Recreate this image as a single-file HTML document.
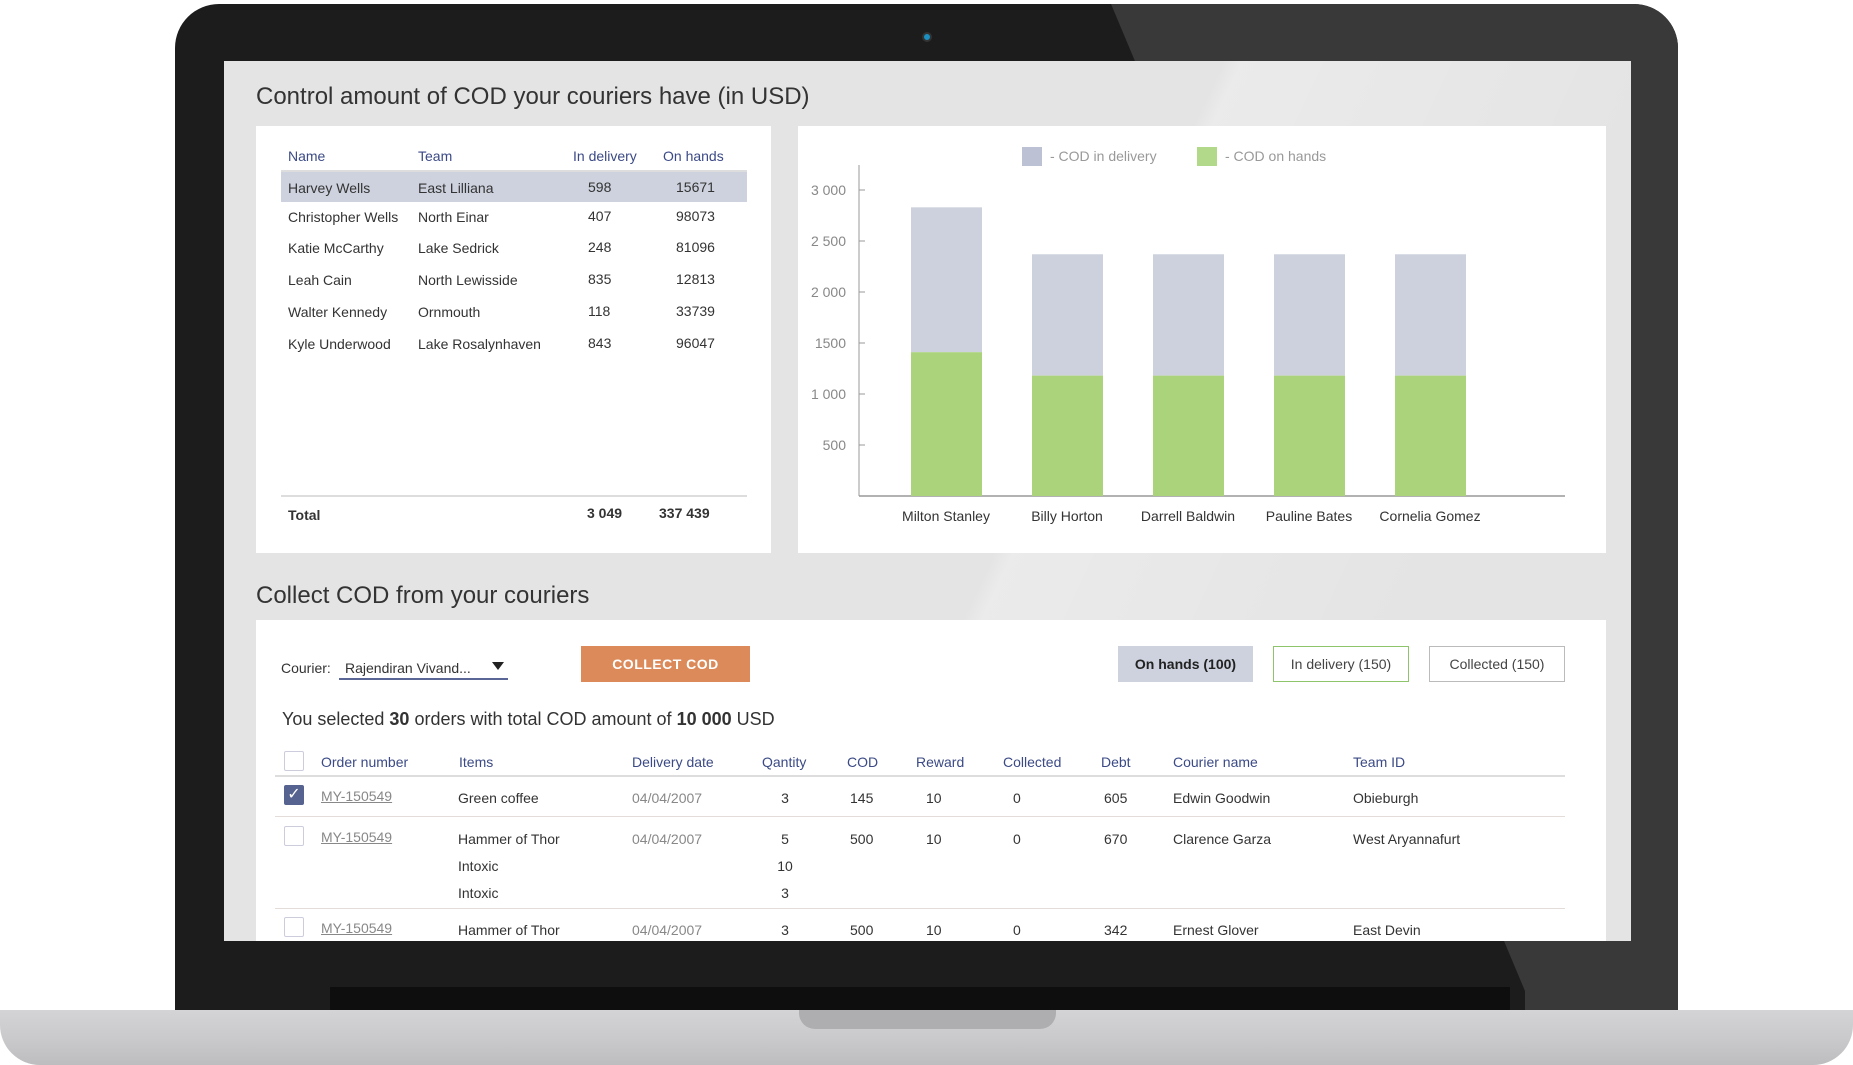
<!DOCTYPE html>
<html><head><meta charset="utf-8"><style>
*{margin:0;padding:0;box-sizing:border-box}
body{width:1853px;height:1065px;overflow:hidden;background:#fff;font-family:"Liberation Sans",sans-serif;position:relative}
.a{position:absolute;white-space:nowrap}
.hd{color:#3b4a86;font-size:14px}
.tx{color:#333;font-size:14px}
</style></head><body>
<div class="a" style="left:175px;top:4px;width:1503px;height:1010px;background:#1c1c1c;border-radius:44px 44px 0 0"></div>
<div class="a" style="left:175px;top:4px;width:1503px;height:1010px;background:#393939;border-radius:44px 44px 0 0;clip-path:polygon(936px 0,1503px 0,1503px 1010px,1350px 1010px,1350px 987px)"></div>
<div class="a" style="left:922px;top:32px;width:10px;height:10px;border-radius:50%;background:#1a8fc0;border:2px solid #333"></div>
<div class="a" style="left:330px;top:987px;width:1180px;height:23px;background:#0e0e0e"></div>
<div class="a" style="left:0;top:1010px;width:1853px;height:55px;background:linear-gradient(#d4d4d6 0,#c9c9cb 55%,#bdbdbf 100%);border-radius:0 0 40px 40px"></div>
<div class="a" style="left:799px;top:1010px;width:257px;height:19px;background:#aeaeb0;border-radius:0 0 16px 16px"></div>
<div class="a" style="left:224px;top:61px;width:1407px;height:880px;background:#e4e4e4;overflow:hidden">
<div class="a" style="left:0;top:0;width:1407px;height:880px;background:linear-gradient(115deg,rgba(255,255,255,0) 55%,rgba(255,255,255,.25) 56%,rgba(255,255,255,0) 80%)"></div>
</div>
<div class="a" style="left:256px;top:83px;font-size:24px;color:#333">Control amount of COD your couriers have (in USD)</div>
<div class="a" style="left:256px;top:126px;width:515px;height:427px;background:#fff"></div>
<div class="a hd" style="left:288px;top:148px">Name</div>
<div class="a hd" style="left:418px;top:148px">Team</div>
<div class="a hd" style="left:573px;top:148px">In delivery</div>
<div class="a hd" style="left:663px;top:148px">On hands</div>
<div class="a" style="left:281px;top:170px;width:466px;height:2px;background:#ddd"></div>
<div class="a" style="left:281px;top:172px;width:466px;height:30px;background:#cdd2de"></div>
<div id="rows"></div>
<div class="a" style="left:281px;top:495px;width:466px;height:2px;background:#ddd"></div>
<div class="a tx" style="left:288px;top:507px;font-weight:bold">Total</div>
<div class="a tx" style="left:587px;top:505px;font-weight:bold">3 049</div>
<div class="a tx" style="left:659px;top:505px;font-weight:bold">337 439</div>
<div class="a" style="left:798px;top:126px;width:808px;height:427px;background:#fff"></div>
<svg class="a" id="chart" style="left:0;top:0" width="1853" height="1065"></svg>
<div class="a" style="left:256px;top:582px;font-size:24px;color:#333">Collect COD from your couriers</div>
<div class="a" style="left:256px;top:620px;width:1350px;height:321px;background:#fff"></div>
<div class="a tx" style="left:281px;top:660px">Courier:</div>
<div class="a" style="left:339px;top:656px;width:169px;height:24px;border-bottom:2px solid #5a6796">
<span class="a tx" style="left:6px;top:4px">Rajendiran Vivand...</span>
<span class="a" style="left:153px;top:6px;width:0;height:0;border-left:6px solid transparent;border-right:6px solid transparent;border-top:8px solid #222"></span></div>
<div class="a" style="left:581px;top:646px;width:169px;height:36px;background:#dc8a5a;color:#fff;font-size:14px;font-weight:bold;text-align:center;line-height:36px;letter-spacing:.5px">COLLECT COD</div>
<div class="a" style="left:1118px;top:646px;width:135px;height:36px;background:#cdd2de;color:#222;font-size:14px;font-weight:bold;text-align:center;line-height:36px">On hands (100)</div>
<div class="a" style="left:1273px;top:646px;width:136px;height:36px;border:1px solid #8ec46a;color:#444;font-size:14px;text-align:center;line-height:34px">In delivery (150)</div>
<div class="a" style="left:1429px;top:646px;width:136px;height:36px;border:1px solid #bbb;color:#444;font-size:14px;text-align:center;line-height:34px">Collected (150)</div>
<div class="a" style="left:282px;top:709px;font-size:18px;color:#333">You selected <b>30</b> orders with total COD amount of <b>10 000</b> USD</div>
<div id="orders"></div>
<script>
const names=["Harvey Wells","Christopher Wells","Katie McCarthy","Leah Cain","Walter Kennedy","Kyle Underwood"];
const teams=["East Lilliana","North Einar","Lake Sedrick","North Lewisside","Ornmouth","Lake Rosalynhaven"];
const inDel=[598,407,248,835,118,843];
const onHands=[15671,98073,81096,12813,33739,96047];
const rowY=[180,209,240,272,304,336];
let h='';
names.forEach((n,i)=>{
h+=`<div class="a tx" style="left:288px;top:${rowY[i]}px">${n}</div>`;
h+=`<div class="a tx" style="left:418px;top:${rowY[i]}px">${teams[i]}</div>`;
h+=`<div class="a tx" style="left:588px;top:${rowY[i]-1}px">${inDel[i]}</div>`;
h+=`<div class="a tx" style="left:676px;top:${rowY[i]-1}px">${onHands[i]}</div>`;
});
document.getElementById('rows').outerHTML=h;

// chart
const cats=["Milton Stanley","Billy Horton","Darrell Baldwin","Pauline Bates","Cornelia Gomez"];
const onHandsVals=[1410,1180,1180,1180,1180];
const deliveryVals=[1420,1190,1190,1190,1190];
const yTicks=[500,1000,1500,2000,2500,3000];
const yTickLabels=["500","1 000","1500","2 000","2 500","3 000"];
const NS='http://www.w3.org/2000/svg';
const svg=document.getElementById('chart');
const x0=859,y0=496,yTop=190;
const y=v=>y0-(v/3000)*(y0-yTop);
const xb=i=>911+i*121;
function el(t,a,name){const e=document.createElementNS(NS,t);for(const k in a)e.setAttribute(k,a[k]);


svg.appendChild(e);return e;}
el('line',{x1:x0,y1:165,x2:x0,y2:y0,stroke:'#999','stroke-width':1},'y-axis');
el('line',{x1:x0,y1:y0,x2:1565,y2:y0,stroke:'#999','stroke-width':1.5},'x-axis');
yTicks.forEach((t,i)=>{
el('line',{x1:x0,y1:y(t),x2:x0+6,y2:y(t),stroke:'#999'},'y-tick');
const tx=el('text',{x:x0-13,y:y(t)+5,'text-anchor':'end','font-size':14,fill:'#888','font-family':'Liberation Sans, sans-serif'},'y-tick-label');tx.textContent=yTickLabels[i];
});
cats.forEach((c,i)=>{
const g=onHandsVals[i],d=deliveryVals[i];
el('rect',{x:xb(i),y:y(g+d),width:71,height:y(g)-y(g+d),fill:'#ccd1dd'},'bar-in-delivery');
el('rect',{x:xb(i),y:y(g),width:71,height:y0-y(g),fill:'#abd37b'},'bar-on-hands');
const t=el('text',{x:xb(i)+35,y:521,'text-anchor':'middle','font-size':14,fill:'#333','font-family':'Liberation Sans, sans-serif'},'x-category-label');t.textContent=c;
});
el('rect',{x:1022,y:147,width:20,height:19,fill:'#bcc2d4'},'legend-swatch-delivery');
let lt=el('text',{x:1050,y:161,'font-size':14,fill:'#999','font-family':'Liberation Sans, sans-serif'},'legend-label-delivery');lt.textContent='-  COD in delivery';
el('rect',{x:1197,y:147,width:20,height:19,fill:'#b2d98a'},'legend-swatch-on-hands');
lt=el('text',{x:1225,y:161,'font-size':14,fill:'#999','font-family':'Liberation Sans, sans-serif'},'legend-label-on-hands');lt.textContent='-  COD on hands';

// orders table
const hdrs=[["Order number",321],["Items",459],["Delivery date",632],["Qantity",762],["COD",847],["Reward",916],["Collected",1003],["Debt",1101],["Courier name",1173],["Team ID",1353]];
let o=`<div class="a" style="left:284px;top:751px;width:20px;height:20px;border:1px solid #ccd;border-radius:2px"></div>`;
hdrs.forEach(([t,x])=>{o+=`<div class="a hd" style="left:${x}px;top:754px">${t}</div>`;});
o+=`<div class="a" style="left:275px;top:775px;width:1290px;height:2px;background:#ddd"></div>`;
const lines=[816,908];
lines.forEach(l=>{o+=`<div class="a" style="left:275px;top:${l}px;width:1290px;height:1px;background:#e3dcd8"></div>`;});
const rows=[
 {y:788,chk:true,items:["Green coffee"],q:["3"],cod:"145",debt:"605",cn:"Edwin Goodwin",team:"Obieburgh"},
 {y:829,chk:false,items:["Hammer of Thor","Intoxic","Intoxic"],q:["5","10","3"],cod:"500",debt:"670",cn:"Clarence Garza",team:"West Aryannafurt"},
 {y:920,chk:false,items:["Hammer of Thor"],q:["3"],cod:"500",debt:"342",cn:"Ernest Glover",team:"East Devin"}];
rows.forEach(r=>{
 o+=`<div class="a" style="left:284px;top:${r.y-3}px;width:20px;height:20px;border-radius:2px;${r.chk?'background:#56628f;color:#fff;font-size:16px;text-align:center;line-height:20px':'border:1px solid #ccd'}">${r.chk?'✓':''}</div>`;
 o+=`<div class="a" style="left:321px;top:${r.y}px;font-size:14px;color:#888;text-decoration:underline">MY-150549</div>`;
 r.items.forEach((it,k)=>{o+=`<div class="a tx" style="left:458px;top:${r.y+k*27+2}px">${it}</div>`;
  o+=`<div class="a tx" style="left:785px;top:${r.y+k*27+2}px;width:0;text-align:center;display:flex;justify-content:center">${r.q[k]}</div>`;});
 o+=`<div class="a" style="left:632px;top:${r.y+2}px;font-size:14px;color:#888">04/04/2007</div>`;
 o+=`<div class="a tx" style="left:850px;top:${r.y+2}px">${r.cod}</div>`;
 o+=`<div class="a tx" style="left:926px;top:${r.y+2}px">10</div>`;
 o+=`<div class="a tx" style="left:1013px;top:${r.y+2}px">0</div>`;
 o+=`<div class="a tx" style="left:1104px;top:${r.y+2}px">${r.debt}</div>`;
 o+=`<div class="a tx" style="left:1173px;top:${r.y+2}px">${r.cn}</div>`;
 o+=`<div class="a tx" style="left:1353px;top:${r.y+2}px">${r.team}</div>`;
});
document.getElementById('orders').outerHTML=o;
</script>
</body></html>
